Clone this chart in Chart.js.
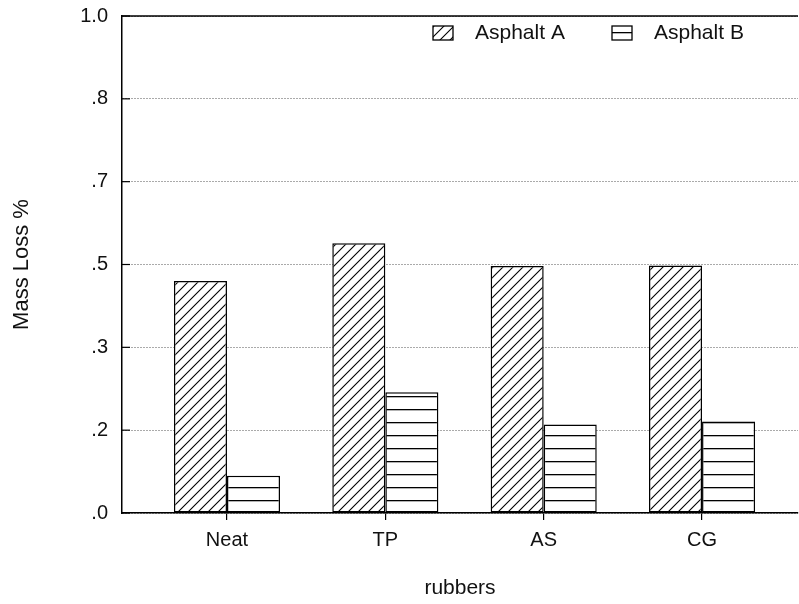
<!DOCTYPE html>
<html>
<head>
<meta charset="utf-8">
<script src="https://cdn.jsdelivr.net/npm/chart.js@4.4.0/dist/chart.umd.min.js"></script>
<style>
  html, body { margin: 0; padding: 0; background: #fff; }
</style>
</head>
<body>
<canvas id="myChart" width="799" height="604"></canvas>
<script>
	// values
	var rubbers = ["Neat", "TP", "AS", "CG"];
	var asphaltA = [0.467, 0.543, 0.497, 0.498];
	var asphaltB = [0.075, 0.243, 0.178, 0.184];
	var yTicks = [0, 1/6, 2/6, 3/6, 4/6, 5/6, 1];
	var yTickLabels = [".0", ".2", ".3", ".5", ".7", ".8", "1.0"];

	var FONT = "'Liberation Sans', Arial, sans-serif";
	var ctx = document.getElementById("myChart").getContext("2d");

	function hatch(kind) {
		var c = document.createElement("canvas");
		var g;
		if (kind === "diag") {
			c.width = 10; c.height = 10;
			g = c.getContext("2d");
			g.fillStyle = "#fff";
			g.fillRect(0, 0, 10, 10);
			g.strokeStyle = "#000";
			g.lineWidth = 1.1;
			g.beginPath();
			g.moveTo(-1, 11); g.lineTo(11, -1);
			g.moveTo(-1, 1); g.lineTo(1, -1);
			g.moveTo(9, 11); g.lineTo(11, 9);
			g.stroke();
		} else {
			c.width = 13; c.height = 13;
			g = c.getContext("2d");
			g.fillStyle = "#fff";
			g.fillRect(0, 0, 13, 13);
			g.fillStyle = "#000";
			g.fillRect(0, 6, 13, 1.3);
		}
		return ctx.createPattern(c, "repeat");
	}

	var patA = hatch("diag");
	var patB = hatch("horiz");

	// top frame line, inner y ticks and the legend box
	var decor = {
		id: "decor",
		afterDraw: function(chart) {
			var c = chart.ctx, a = chart.chartArea, y = chart.scales.y;
			c.save();
			c.strokeStyle = "#000";
			c.lineWidth = 1.5;
			c.beginPath();
			c.moveTo(a.left, a.top);
			c.lineTo(a.right, a.top);
			c.stroke();

			c.lineWidth = 1.2;
			y.ticks.forEach(function(t) {
				var py = y.getPixelForValue(t.value);
				c.beginPath();
				c.moveTo(a.left, py);
				c.lineTo(a.left + 8, py);
				c.stroke();
			});

			var boxX = [a.left + 311, a.left + 490];
			c.font = "21px " + FONT;
			c.textBaseline = "middle";
			chart.data.datasets.forEach(function(ds, i) {
				var bx = boxX[i], by = a.top + 10;
				c.fillStyle = ds.backgroundColor;
				c.fillRect(bx, by, 20, 14);
				c.lineWidth = 1.3;
				c.strokeRect(bx, by, 20, 14);
				c.fillStyle = "#111";
				c.fillText(ds.label, bx + 42, by + 7);
			});
			c.restore();
		}
	};

	var myBarChart = new Chart(ctx, {
		type: "bar",
		data: {
			datasets: [{
				label: "Asphalt A",
				data: rubbers.map(function(r, i) { return {x: i + 1, y: asphaltA[i]}; }),
				backgroundColor: patA,
				borderColor: "#000",
				borderWidth: 1.5,
				borderSkipped: false
			}, {
				label: "Asphalt B",
				data: rubbers.map(function(r, i) { return {x: i + 1, y: asphaltB[i]}; }),
				backgroundColor: patB,
				borderColor: "#000",
				borderWidth: 1.5,
				borderSkipped: false
			}]
		},
		plugins: [decor],
		options: {
			responsive: false,
			animation: false,
			barPercentage: 1,
			categoryPercentage: 0.67,
			layout: { padding: { top: 16, right: 1, left: 0, bottom: 0 } },
			plugins: {
				legend: { display: false },
				tooltip: { enabled: false }
			},
			scales: {
				x: {
					type: "linear",
					offset: false,
					min: 0.337,
					max: 4.606,
					afterBuildTicks: function(s) {
						s.ticks = rubbers.map(function(r, i) { return {value: i + 1}; });
					},
					afterFit: function(s) { s.height = 91; },
					grid: { offset: false, drawOnChartArea: false, drawTicks: true, tickLength: 7, color: "#000", lineWidth: 1.2 },
					border: { color: "#000", width: 1.5 },
					ticks: {
						autoSkip: false,
						maxRotation: 0,
						padding: 8,
						color: "#111",
						font: { family: FONT, size: 20 },
						callback: function(v, i) { return rubbers[i]; }
					},
					title: {
						display: true,
						text: "rubbers",
						color: "#111",
						font: { family: FONT, size: 21 },
						padding: { top: 0, bottom: 3 }
					}
				},
				y: {
					min: 0,
					max: 1,
					afterBuildTicks: function(s) {
						s.ticks = yTicks.map(function(v) { return {value: v}; });
					},
					afterFit: function(s) {
						s.width = 122;
						s.paddingTop = 0;
						s.paddingBottom = 0;
					},
					grid: { drawTicks: false, color: "#555", lineWidth: 1 },
					border: { color: "#000", width: 1.5, dash: [1, 2] },
					ticks: {
						padding: 14,
						color: "#111",
						font: { family: FONT, size: 20 },
						callback: function(v, i) { return yTickLabels[i]; }
					},
					title: {
						display: true,
						text: "Mass Loss %",
						color: "#111",
						font: { family: FONT, size: 22 },
						padding: { top: 9, bottom: 0 }
					}
				}
			}
		}
	});
</script>
</body>
</html>
